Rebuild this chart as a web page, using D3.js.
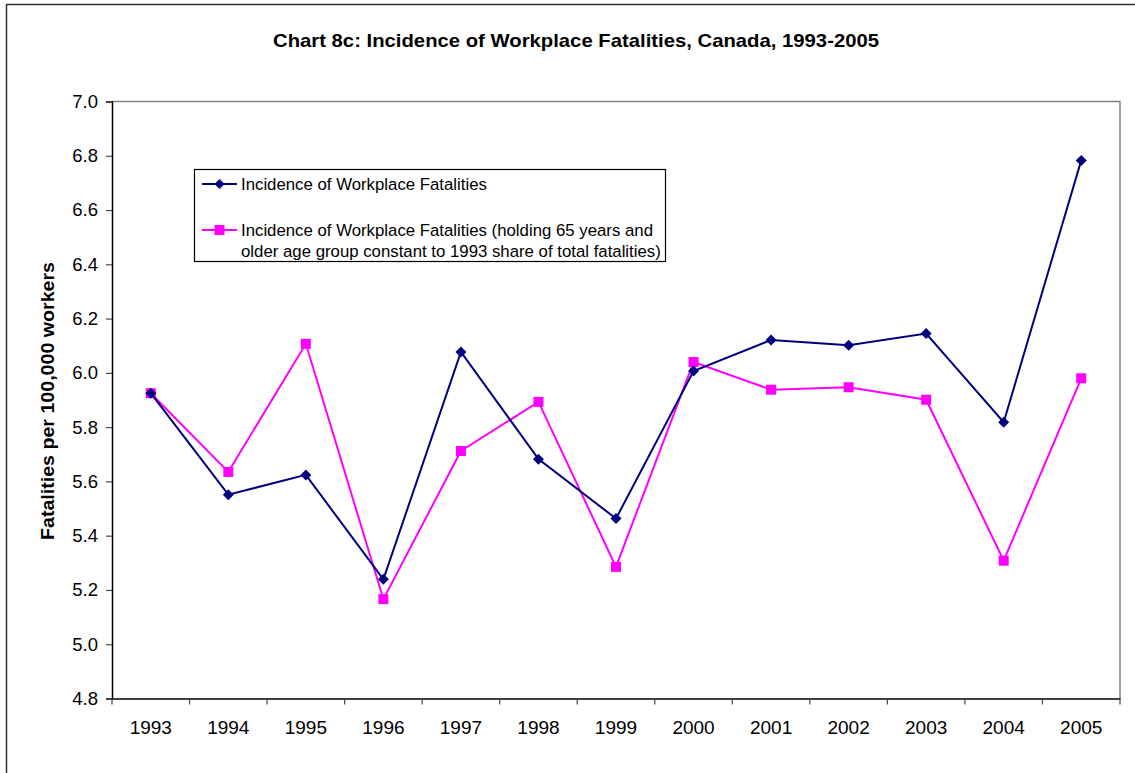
<!DOCTYPE html>
<html>
<head>
<meta charset="utf-8">
<script src="https://cdn.jsdelivr.net/npm/d3@7"></script>
<style>
  html, body { margin: 0; padding: 0; background: #fff; }
  svg { display: block; font-family: "Liberation Sans", Arial, sans-serif; }
</style>
</head>
<body>
<svg id="chart" width="1135" height="773"></svg>
<script>
const years = ["1993","1994","1995","1996","1997","1998","1999","2000","2001","2002","2003","2004","2005"];
const incidence = [5.925, 5.551, 5.624, 5.239, 6.077, 5.682, 5.463, 6.007, 6.121, 6.102, 6.145, 5.818, 6.783];
const incidenceHeld = [5.925, 5.635, 6.107, 5.166, 5.712, 5.893, 5.285, 6.040, 5.938, 5.947, 5.901, 5.308, 5.980];
const yTicks = [4.8, 5.0, 5.2, 5.4, 5.6, 5.8, 6.0, 6.2, 6.4, 6.6, 6.8, 7.0];
const titleText = "Chart 8c: Incidence of Workplace Fatalities, Canada, 1993-2005";
const yTitle = "Fatalities per 100,000 workers";
const legendLabels = [
  ["Incidence of Workplace Fatalities"],
  ["Incidence of Workplace Fatalities (holding 65 years and", "older age group constant to 1993 share of total fatalities)"]
];

const svg = d3.select("#chart");
const L = 112, R = 1120, T = 101.5, B = 698.5;

// outer border
svg.append("path").attr("d", `M6.5,773 L6.5,4.5 L1135,4.5`).attr("fill","none").attr("stroke","#333").attr("stroke-width",1.5);

const x = d3.scaleBand().domain(years).range([L, R]).padding(0);
const y = d3.scaleLinear().domain([4.8, 7.0]).range([B, T]);

// plot area border (top & right, gray)
svg.append("path").attr("d", `M${L},${T} L${R},${T} L${R},${B}`).attr("fill","none").attr("stroke","#808080").attr("stroke-width",1.5);

// y axis
const yAxis = svg.append("g").attr("transform", `translate(${L},0)`)
  .call(d3.axisLeft(y).tickValues(yTicks).tickFormat(d3.format(".1f")).tickSize(6).tickPadding(8));
yAxis.select(".domain").attr("stroke","#000").attr("stroke-width",1.5);
yAxis.selectAll(".tick line").attr("stroke","#444").attr("stroke-width",1.2);
yAxis.selectAll("text").attr("font-size", 18.5).attr("fill","#000").attr("font-family","Liberation Sans, Arial, sans-serif");

// x axis
const xAxis = svg.append("g").attr("transform", `translate(0,${B})`)
  .call(d3.axisBottom(x).tickSize(0).tickPadding(22));
xAxis.select(".domain").attr("stroke","#000").attr("stroke-width",1.5);
xAxis.selectAll("text").attr("font-size", 19).attr("fill","#000").attr("font-family","Liberation Sans, Arial, sans-serif");
// tick marks at band boundaries
const bounds = years.map(d => x(d)).concat([x(years[years.length-1]) + x.bandwidth()]);
svg.append("g").selectAll("line").data(bounds).join("line")
  .attr("x1", d => d).attr("x2", d => d).attr("y1", B).attr("y2", B + 6)
  .attr("stroke", "#444").attr("stroke-width", 1.2);

const cx = d => x(d) + x.bandwidth() / 2;
const line = d3.line().x((d,i) => cx(years[i])).y(d => y(d));

// pink series
svg.append("path").datum(incidenceHeld).attr("d", line)
  .attr("fill","none").attr("stroke","#ff00ff").attr("stroke-width",2);
svg.append("g").selectAll("rect").data(incidenceHeld).join("rect")
  .attr("x", (d,i) => cx(years[i]) - 5).attr("y", d => y(d) - 5)
  .attr("width", 10).attr("height", 10).attr("fill","#ff00ff");

// navy series
svg.append("path").datum(incidence).attr("d", line)
  .attr("fill","none").attr("stroke","#000080").attr("stroke-width",2);
svg.append("g").selectAll("path").data(incidence).join("path")
  .attr("d", (d,i) => { const px = cx(years[i]), py = y(d); return `M${px},${py-5.5} L${px+5.5},${py} L${px},${py+5.5} L${px-5.5},${py} Z`; })
  .attr("fill","#000080");

// title
svg.append("text").attr("x", 576).attr("y", 47).attr("text-anchor","middle")
  .attr("font-size", 18.5).attr("font-weight","bold")
  .attr("textLength", 606).attr("lengthAdjust","spacingAndGlyphs").text(titleText);

// y title
svg.append("text").attr("transform", `translate(54,${401}) rotate(-90)`)
  .attr("text-anchor","middle").attr("font-size", 18.5).attr("font-weight","bold")
  .attr("textLength", 278).attr("lengthAdjust","spacingAndGlyphs").text(yTitle);

// legend
const lg = svg.append("g");
lg.append("rect").attr("x", 194.5).attr("y", 169.5).attr("width", 471).attr("height", 92)
  .attr("fill","#fff").attr("stroke","#000").attr("stroke-width",1.2);
const legY = [184, 230];
const colors = ["#000080", "#ff00ff"];
legendLabels.forEach((lines, k) => {
  lg.append("line").attr("x1", 202).attr("x2", 237).attr("y1", legY[k]).attr("y2", legY[k])
    .attr("stroke", colors[k]).attr("stroke-width", 2);
  if (k === 0) {
    lg.append("path").attr("d", `M219.5,${legY[k]-5} L224.5,${legY[k]} L219.5,${legY[k]+5} L214.5,${legY[k]} Z`).attr("fill", colors[k]);
  } else {
    lg.append("rect").attr("x", 214.5).attr("y", legY[k]-5).attr("width", 10).attr("height", 10).attr("fill", colors[k]);
  }
  lines.forEach((t, j) => {
    lg.append("text").attr("x", 241).attr("y", legY[k] + 6 + j * 21)
      .attr("font-size", 16.8).attr("fill","#000").text(t);
  });
});
</script>
</body>
</html>
